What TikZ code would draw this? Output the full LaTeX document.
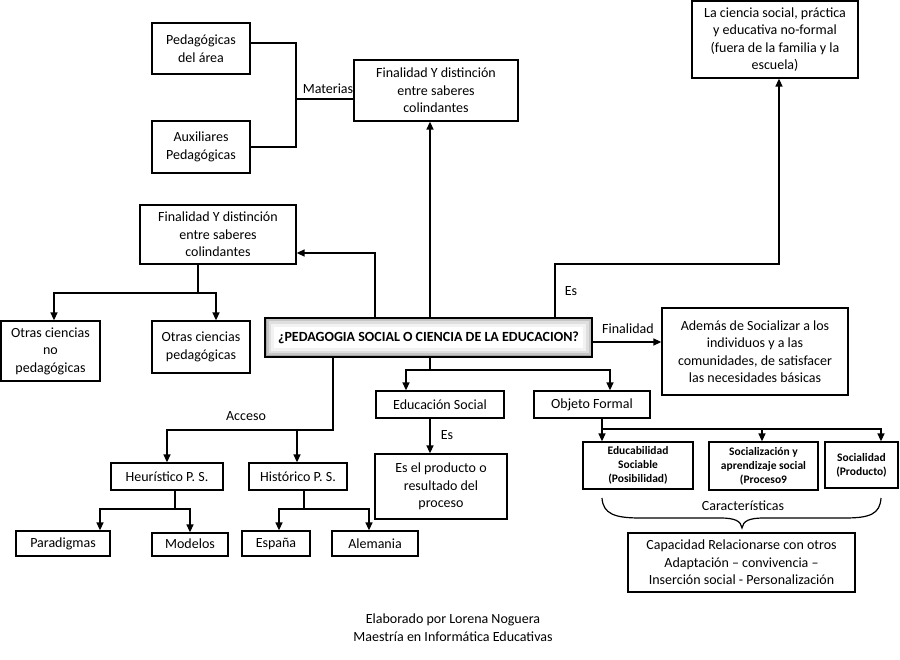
\documentclass[tikz,border=0pt]{standalone}
\usepackage{fontspec}
\setmainfont{Carlito}
\usetikzlibrary{arrows.meta}
\tikzset{
  box/.style={draw=black, line width=1.3pt, fill=white, align=center, inner sep=2pt,
    font=\fontsize{14}{17.5}\selectfont},
  sbox/.style={box, font=\bfseries\fontsize{11.5}{14}\selectfont},
  conn/.style={line width=1.4pt},
  arr/.style={conn, -{Triangle[length=8pt,width=7pt]}},
  lbl/.style={font=\fontsize{14}{17}\selectfont, inner sep=1pt},
  mainbox/.style={draw=black, line width=1.8pt, fill=white, align=center,
    font=\bfseries\fontsize{14}{17}\selectfont,
    path picture={
      \draw[gray!10, line width=18pt] (path picture bounding box.south west) rectangle (path picture bounding box.north east);
      \draw[gray!25, line width=12pt] (path picture bounding box.south west) rectangle (path picture bounding box.north east);
      \draw[gray!45, line width=7pt] (path picture bounding box.south west) rectangle (path picture bounding box.north east);
      \draw[gray!70, line width=3pt] (path picture bounding box.south west) rectangle (path picture bounding box.north east);
    }},
}
\begin{document}
\begin{tikzpicture}[x=1pt,y=-1pt]
\useasboundingbox (0,0) rectangle (900,660);
\fill[white] (0,0) rectangle (900,660);

% nodes
\node[box, minimum width=98pt, minimum height=51pt] (pa) at (201,48.5) {Pedagógicas\\del área};
\node[box, minimum width=98pt, minimum height=52pt] (ap) at (201,147) {Auxiliares\\Pedagógicas};
\node[box, minimum width=164pt, minimum height=61pt] (fin1) at (436,90.5) {Finalidad Y distinción\\entre saberes\\colindantes};
\node[box, minimum width=166pt, minimum height=77pt] (nf) at (775,39.5) {La ciencia social, práctica\\y educativa no-formal\\(fuera de la familia y la\\escuela)};
\node[box, minimum width=156pt, minimum height=59pt] (fin2) at (218,234.5) {Finalidad Y distinción\\entre saberes\\colindantes};
\node[box, minimum width=99pt, minimum height=60pt] (on) at (50.5,351) {Otras ciencias\\no\\pedagógicas};
\node[box, minimum width=98pt, minimum height=52pt] (op) at (201,347) {Otras ciencias\\pedagógicas};
\node[mainbox, minimum width=327pt, minimum height=39pt] (c) at (428.5,337.5) {¿PEDAGOGIA SOCIAL O CIENCIA DE LA EDUCACION?};
\node[box, minimum width=186pt, minimum height=87pt] (ad) at (755,351.5) {Además de Socializar a los\\individuos y a las\\comunidades, de satisfacer\\las necesidades básicas};
\node[box, minimum width=128pt, minimum height=27pt] (es) at (440,404.5) {Educación Social};
\node[box, minimum width=116pt, minimum height=27pt] (of) at (592,404.5) {Objeto Formal};
\node[box, minimum width=132pt, minimum height=65pt] (prod) at (441,486.5) {Es el producto o\\resultado del\\proceso};
\node[box, minimum width=112pt, minimum height=27pt] (heu) at (167,476.5) {Heurístico P. S.};
\node[box, minimum width=98pt, minimum height=27pt] (his) at (298,476.5) {Histórico P. S.};
\node[box, minimum width=94pt, minimum height=25pt] (par) at (63,543.5) {Paradigmas};
\node[box, minimum width=76pt, minimum height=23pt, text depth=1pt] (mod) at (190,544.5) {Modelos};
\node[box, minimum width=68pt, minimum height=25pt] (esp) at (276,543.5) {España};
\node[box, minimum width=86pt, minimum height=25pt] (ale) at (375,543.5) {Alemania};
\node[sbox, minimum width=110pt, minimum height=47pt] (e1) at (638,465.5) {Educabilidad\\Sociable\\(Posibilidad)};
\node[sbox, minimum width=109pt, minimum height=48pt] (e2) at (763.5,466) {Socialización y\\aprendizaje social\\(Proceso9};
\node[sbox, minimum width=73pt, minimum height=46pt] (e3) at (861.5,465) {Socialidad\\(Producto)};
\node[box, minimum width=227pt, minimum height=59pt] (cap) at (741.5,562.5) {Capacidad Relacionarse con otros\\Adaptación – convivencia –\\Inserción social - Personalización};

% Materias bracket
\coordinate (mj) at (296,99);
\draw[conn] ([yshift=5.5pt]pa.east) -| (mj) |- (ap.east);
\draw[conn] (mj) -- (fin1.west |- mj);
\node[lbl] at (328,89) {Materias};

% up to fin1
\draw[arr] (c.north -| 430,0) -- (fin1.south -| 430,0);
% up to nf
\draw[arr] (c.north -| 555,0) -- (555,264) -| ([xshift=4pt]nf.south);
\node[lbl] at (571,291) {Es};
% left to fin2
\draw[arr] (c.north -| 375,0) |- ([yshift=-18.5pt]fin2.east);
% fin2 to otras
\coordinate (f2j) at (198,293);
\draw[conn] (fin2.south -| f2j) -- (f2j);
\draw[arr] (f2j) -| (on.north -| 54,0);
\draw[arr] (f2j) -| (op.north -| 216,0);
% Finalidad
\draw[arr] (c.east |- 0,342) -- (ad.west |- 0,342);
\node[lbl] at (628,329) {Finalidad};
% down to es / of
\coordinate (cj) at (430,370);
\draw[conn] (c.south -| cj) -- (cj);
\draw[arr] (cj) -| (es.north -| 406,0);
\draw[arr] (cj) -| (of.north -| 610,0);
% es to prod
\draw[arr] (es.south -| 430,0) -- (prod.north -| 430,0);
\node[lbl] at (447,435) {Es};
% Acceso
\coordinate (aj) at (333,430);
\draw[arr] (c.south -| aj) -- (aj) -| (heu.north -| 167,0);
\draw[arr] (297,430) -- (his.north -| 297,0);
\node[lbl] at (246,416) {Acceso};
% heu children
\coordinate (hj) at (175,509);
\draw[conn] (heu.south -| hj) -- (hj);
\draw[arr] (hj) -| (par.north -| 100,0);
\draw[arr] (hj) -| (mod.north -| 190,0);
% his children
\coordinate (sj) at (304,509);
\draw[conn] (his.south -| sj) -- (sj);
\draw[arr] (sj) -| (esp.north -| 279,0);
\draw[arr] (sj) -| (ale.north -| 369,0);
% objeto formal children
\coordinate (oj) at (602,429);
\draw[conn] (of.south -| oj) -- (oj);
\draw[arr] (oj) -- (e1.north -| oj);
\draw[arr] (oj) -| (e2.north -| 762,0);
\draw[arr] (oj) -| (e3.north -| 881,0);
% brace
\draw[conn, line width=1.2pt] (602,498) .. controls (603,514) and (615,518) .. (640,518) -- (720,518) .. controls (735,518) and (741,521) .. (742,528) .. controls (743,521) and (749,518) .. (764,518) -- (845,518) .. controls (870,518) and (880,514) .. (881,498);
\node[lbl] at (743,506) {Características};

% footer
\node[lbl] at (453,620) {Elaborado por Lorena Noguera};
\node[lbl] at (453,637) {Maestría en Informática Educativas};
\end{tikzpicture}
\end{document}
